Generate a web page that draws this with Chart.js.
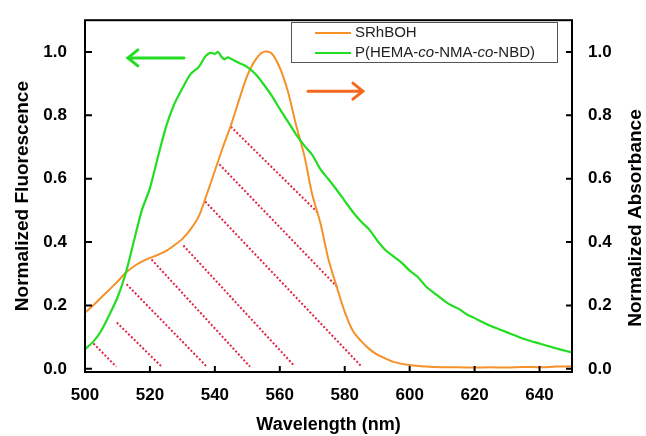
<!DOCTYPE html>
<html>
<head>
<meta charset="utf-8">
<script src="https://cdn.jsdelivr.net/npm/chart.js@4.4.0/dist/chart.umd.min.js"></script>
<style>
html, body { margin: 0; padding: 0; background: #fff; }
#wrap { width: 646px; height: 436px; }
</style>
</head>
<body>
<div id="wrap"><canvas id="chart" width="646" height="436"></canvas></div>
<script>
const xTicks = [500, 520, 540, 560, 580, 600, 620, 640];
const yTicks = [0, 0.2, 0.4, 0.6, 0.8, 1.0];

// SRhBOH absorbance (right axis)
const absWl = [500, 502.5, 505, 507.5, 510, 512.5, 515, 517.5, 520, 522.5, 525, 527.5, 530, 532.5, 535, 537.5, 540, 542.5, 545, 547.5,
  550, 552.5, 555, 557.5, 560, 562.5, 565, 567.5, 570, 572.5, 575, 577.5, 580, 582.5, 585, 587.5, 590, 592.5, 595,
  600, 605, 610, 615, 620, 625, 630, 635, 640, 645, 650];
const absVal = [0.177, 0.20, 0.225, 0.25, 0.275, 0.303, 0.323, 0.338, 0.35, 0.36, 0.372, 0.39, 0.41, 0.44, 0.48, 0.55, 0.625, 0.70, 0.77, 0.85,
  0.925, 0.975, 1.0, 0.995, 0.95, 0.875, 0.77, 0.675, 0.55, 0.46, 0.345, 0.26, 0.18, 0.12, 0.088, 0.063, 0.045, 0.033, 0.022,
  0.012, 0.007, 0.005, 0.005, 0.004, 0.005, 0.004, 0.006, 0.005, 0.007, 0.008];

// P(HEMA-co-NMA-co-NBD) fluorescence (left axis)
const fluWl = [500, 502.5, 505, 507.5, 510, 512.5, 515, 517.5, 520, 522.5, 525, 527.5, 530, 532.5, 535, 537, 538.5, 540, 541, 542,
  543, 544, 545, 547.5, 550, 552.5, 555, 557.5, 560, 562.5, 565, 567.5, 570, 572.5, 575, 577.5, 580, 582.5, 585, 587.5,
  590, 592.5, 595, 597.5, 600, 602.5, 605, 607.5, 610, 612.5, 615, 617.5, 620, 622.5, 625, 627.5, 630, 632.5, 635, 637.5,
  640, 642.5, 645, 647.5, 650];
const fluVal = [0.062, 0.085, 0.12, 0.17, 0.225, 0.30, 0.40, 0.50, 0.57, 0.67, 0.765, 0.835, 0.885, 0.93, 0.952, 0.985, 0.997, 0.994, 1.0, 0.985,
  0.977, 0.983, 0.978, 0.965, 0.952, 0.93, 0.898, 0.862, 0.82, 0.78, 0.74, 0.705, 0.675, 0.63, 0.598, 0.565, 0.53, 0.495, 0.465, 0.44,
  0.405, 0.375, 0.355, 0.335, 0.31, 0.29, 0.26, 0.24, 0.22, 0.202, 0.19, 0.172, 0.16, 0.147, 0.135, 0.125, 0.115, 0.105, 0.095, 0.087,
  0.08, 0.072, 0.065, 0.058, 0.052];

// overlap hatching (dotted segments), in data units
const hatchX1 = [502.6, 509.8, 512.8, 520.5, 530.3, 537.0, 541.4, 544.9];
const hatchY1 = [0.080, 0.146, 0.267, 0.345, 0.389, 0.528, 0.645, 0.764];
const hatchX2 = [509.6, 523.4, 537.5, 550.8, 564.5, 585.2, 578.0, 571.8];
const hatchY2 = [0.007, 0.009, 0.007, 0.007, 0.009, 0.007, 0.255, 0.492];

// axis arrows, in data units
const arrowX1 = [530.5, 568.7];
const arrowX2 = [513.2, 585.6];
const arrowY = [0.981, 0.876];

const legendLabels = ['SRhBOH', 'P(HEMA-<i>co</i>-NMA-<i>co</i>-NBD)'];

const GREEN = 'rgb(34,221,34)';
const ORANGE = 'rgb(245,145,40)';
const ORANGE_ARROW = 'rgb(245,105,30)';
const HATCH = 'rgb(225,35,65)';
const FONT = '"Liberation Sans", Arial, sans-serif';
const arrowColors = [GREEN, ORANGE_ARROW];

const datasets = [
  {
    label: legendLabels[1],
    data: fluWl.map((w, i) => ({ x: w, y: fluVal[i] })),
    borderColor: GREEN, borderWidth: 2.2, pointRadius: 0, tension: 0.25, yAxisID: 'y'
  },
  {
    label: legendLabels[0],
    data: absWl.map((w, i) => ({ x: w, y: absVal[i] })),
    borderColor: ORANGE, borderWidth: 2, pointRadius: 0, tension: 0.3, yAxisID: 'y2'
  }
];
hatchX1.forEach((x1, i) => {
  datasets.push({
    label: 'hatch' + i,
    data: [{ x: x1, y: hatchY1[i] }, { x: hatchX2[i], y: hatchY2[i] }],
    borderColor: HATCH, borderWidth: 2, borderDash: [2, 2], pointRadius: 0, yAxisID: 'y'
  });
});

function drawRich(ctx, text, x, y, size) {
  const parts = text.split(/(<i>.*?<\/i>)/).filter(p => p.length);
  parts.forEach(p => {
    const it = p.startsWith('<i>');
    const t = it ? p.slice(3, -4) : p;
    ctx.font = (it ? 'italic ' : '') + size + 'px ' + FONT;
    ctx.fillText(t, x, y);
    x += ctx.measureText(t).width;
  });
}

const decor = {
  id: 'decor',
  afterDatasetsDraw(chart) {
    const { ctx, chartArea: a, scales } = chart;
    const sx = scales.x, sy = scales.y, sy2 = scales.y2;
    ctx.save();

    // arrows
    ctx.lineWidth = 3;
    ctx.lineCap = 'round';
    arrowX1.forEach((x1, i) => {
      const px1 = sx.getPixelForValue(x1);
      const px2 = sx.getPixelForValue(arrowX2[i]);
      const py = sy.getPixelForValue(arrowY[i]);
      const dir = px2 > px1 ? 1 : -1;
      ctx.strokeStyle = arrowColors[i];
      ctx.beginPath();
      ctx.moveTo(px1, py); ctx.lineTo(px2, py);
      ctx.moveTo(px2 - dir * 10, py - 8); ctx.lineTo(px2, py); ctx.lineTo(px2 - dir * 10, py + 8);
      ctx.stroke();
    });

    // frame and inward ticks
    ctx.lineCap = 'butt';
    ctx.strokeStyle = '#000';
    ctx.lineWidth = 2;
    ctx.strokeRect(a.left, a.top, a.right - a.left, a.bottom - a.top);
    ctx.beginPath();
    xTicks.forEach(v => {
      const px = sx.getPixelForValue(v);
      ctx.moveTo(px, a.bottom); ctx.lineTo(px, a.bottom - 6);
    });
    yTicks.forEach(v => {
      const py = sy.getPixelForValue(v);
      ctx.moveTo(a.left, py); ctx.lineTo(a.left + 7, py);
      const py2 = sy2.getPixelForValue(v);
      ctx.moveTo(a.right, py2); ctx.lineTo(a.right - 6, py2);
    });
    ctx.stroke();

    // legend box
    const lx = 291, ly = 22, lw = 266, lh = 40;
    ctx.fillStyle = '#fff';
    ctx.fillRect(lx, ly, lw, lh);
    ctx.strokeStyle = '#555';
    ctx.lineWidth = 1;
    ctx.strokeRect(lx + 0.5, ly + 0.5, lw, lh);
    const rows = [[legendLabels[0], ORANGE, 33], [legendLabels[1], GREEN, 53]];
    rows.forEach(([txt, col, ry]) => {
      ctx.strokeStyle = col;
      ctx.lineWidth = 2;
      ctx.beginPath();
      ctx.moveTo(315, ry); ctx.lineTo(351, ry);
      ctx.stroke();
      ctx.fillStyle = '#222';
      ctx.textBaseline = 'middle';
      ctx.textAlign = 'left';
      drawRich(ctx, txt, 355, ry, 15);
    });

    // right axis title, reading bottom to top
    ctx.translate(636, 218);
    ctx.rotate(-Math.PI / 2);
    ctx.fillStyle = '#000';
    ctx.font = 'bold 19px ' + FONT;
    ctx.textAlign = 'center';
    ctx.textBaseline = 'middle';
    ctx.fillText('Normalized Absorbance', 0, 0);
    ctx.restore();
  }
};

const tickFont = { family: FONT, size: 17, weight: 'bold' };

new Chart(document.getElementById('chart').getContext('2d'), {
  type: 'line',
  data: { datasets },
  options: {
    responsive: false,
    devicePixelRatio: 1,
    animation: false,
    layout: { padding: { top: 13, right: 0, left: 0, bottom: 0 } },
    plugins: { legend: { display: false }, tooltip: { enabled: false } },
    scales: {
      x: {
        type: 'linear', min: 500, max: 650,
        afterBuildTicks: s => { s.ticks = xTicks.map(v => ({ value: v })); },
        afterFit: s => { s.height = 64; },
        grid: { display: false }, border: { display: false },
        ticks: { font: tickFont, color: '#000', padding: 5, maxRotation: 0, autoSkip: false },
        title: { display: true, text: 'Wavelength (nm)', color: '#000', font: { family: FONT, size: 18, weight: 'bold' }, padding: { top: 0, bottom: 0 } }
      },
      y: {
        position: 'left', min: -0.01, max: 1.1,
        afterBuildTicks: s => { s.ticks = yTicks.map(v => ({ value: v })); },
        afterFit: s => { s.width = 85; },
        grid: { display: false }, border: { display: false },
        ticks: { font: tickFont, color: '#000', padding: 10, callback: v => v.toFixed(1) },
        title: { display: true, text: 'Normalized Fluorescence', color: '#000', font: { family: FONT, size: 19, weight: 'bold' }, padding: { top: 11, bottom: 0 } }
      },
      y2: {
        position: 'right', min: -0.01, max: 1.1,
        afterBuildTicks: s => { s.ticks = yTicks.map(v => ({ value: v })); },
        afterFit: s => { s.width = 74; },
        grid: { display: false }, border: { display: false },
        ticks: { font: tickFont, color: '#000', padding: 8, callback: v => v.toFixed(1) }
      }
    }
  },
  plugins: [decor]
});
</script>
</body>
</html>
